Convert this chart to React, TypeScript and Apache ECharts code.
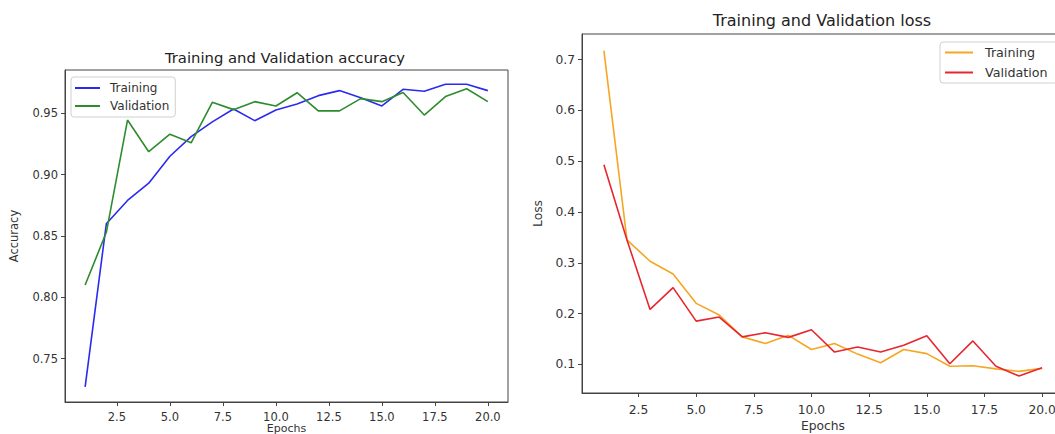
import React, { useEffect, useRef } from "react";
import * as echarts from "echarts";

const epochs = [1, 2, 3, 4, 5, 6, 7, 8, 9, 10, 11, 12, 13, 14, 15, 16, 17, 18, 19, 20];
const accTraining = [0.727, 0.86, 0.879, 0.893, 0.915, 0.931, 0.943, 0.9535, 0.944, 0.9527, 0.9576, 0.9644, 0.9685, 0.9627, 0.956, 0.9696, 0.968, 0.9737, 0.9737, 0.9685];
const accValidation = [0.81, 0.853, 0.9445, 0.9187, 0.933, 0.926, 0.959, 0.953, 0.9595, 0.956, 0.9668, 0.952, 0.952, 0.962, 0.9595, 0.967, 0.9486, 0.9636, 0.97, 0.9595];
const lossTraining = [0.718, 0.345, 0.303, 0.278, 0.22, 0.197, 0.154, 0.141, 0.157, 0.129, 0.141, 0.12, 0.103, 0.129, 0.121, 0.096, 0.097, 0.091, 0.086, 0.092];
const lossValidation = [0.493, 0.345, 0.208, 0.251, 0.185, 0.193, 0.154, 0.162, 0.153, 0.168, 0.124, 0.134, 0.124, 0.1375, 0.156, 0.101, 0.146, 0.096, 0.077, 0.093];
const xTicks = [2.5, 5, 7.5, 10, 12.5, 15, 17.5, 20];
const accTicks = [0.75, 0.8, 0.85, 0.9, 0.95];
const lossTicks = [0.1, 0.2, 0.3, 0.4, 0.5, 0.6, 0.7];

const FONT = "DejaVu Sans";
const TXT = "#333";

function pairs(ys: number[]) {
  return epochs.map((x, i) => [x, ys[i]]);
}

function xAxis(gridIndex: number, nameGap: number, fs: number, nameFs: number, labelMargin: number) {
  return {
    type: "value",
    gridIndex,
    min: 0.05,
    max: 20.95,
    name: "Epochs",
    nameLocation: "middle",
    nameGap,
    nameMoveOverlap: false,
    nameTextStyle: { fontFamily: FONT, fontSize: nameFs, color: TXT },
    axisLine: { show: true, lineStyle: { color: "#444", width: 1 } },
    axisTick: { show: true, customValues: xTicks, length: 4, lineStyle: { color: "#444" } },
    axisLabel: {
      customValues: xTicks,
      formatter: (v: number) => v.toFixed(1),
      fontFamily: FONT,
      fontSize: fs,
      color: TXT,
      margin: labelMargin,
    },
    splitLine: { show: false },
  };
}

function yAxis(gridIndex: number, name: string, min: number, max: number, ticks: number[], digits: number, nameGap: number, fs: number) {
  return {
    type: "value",
    gridIndex,
    min,
    max,
    name,
    nameLocation: "middle",
    nameGap,
    nameRotate: 90,
    nameTextStyle: { fontFamily: FONT, fontSize: fs, color: TXT },
    axisLine: { show: true, lineStyle: { color: "#444", width: 1 } },
    axisTick: { show: true, customValues: ticks, length: 4, lineStyle: { color: "#444" } },
    axisLabel: {
      customValues: ticks,
      formatter: (v: number) => v.toFixed(digits),
      fontFamily: FONT,
      fontSize: fs,
      color: TXT,
      margin: 7,
    },
    splitLine: { show: false },
  };
}

function line(name: string, xi: number, data: number[], color: string) {
  return {
    type: "line",
    name,
    xAxisIndex: xi,
    yAxisIndex: xi,
    data: pairs(data),
    showSymbol: false,
    symbol: "none",
    lineStyle: { color, width: 1.6 },
    itemStyle: { color },
  };
}

const labelMap: Record<string, string> = {
  accT: "Training",
  accV: "Validation",
  lossT: "Training",
  lossV: "Validation",
};

export default function App() {
  const ref = useRef<HTMLDivElement>(null);
  useEffect(() => {
    if (!ref.current) return;
    const chart = echarts.init(ref.current, undefined, { renderer: "svg" });
    const legendBase = {
      orient: "vertical",
      icon: "rect",
      itemHeight: 2,
      borderColor: "#d0d0d0",
      borderWidth: 1,
      borderRadius: 3,
      backgroundColor: "rgba(255,255,255,0.85)",
      formatter: (n: string) => labelMap[n] || n,
      selectedMode: false,
    };
    chart.setOption({
      animation: false,
      backgroundColor: "#fff",
      grid: [
        { left: 65, top: 70, width: 443, height: 332, show: true, borderColor: "#444", borderWidth: 1, backgroundColor: "transparent", outerBoundsMode: "none", containLabel: false },
        { left: 582, top: 34, width: 482, height: 359, show: true, borderColor: "#444", borderWidth: 1, backgroundColor: "transparent", outerBoundsMode: "none", containLabel: false },
      ],
      xAxis: [xAxis(0, 21, 11.5, 11, 9), xAxis(1, 27, 12.3, 12.3, 11)],
      yAxis: [
        yAxis(0, "Accuracy", 0.7147, 0.9853, accTicks, 2, 45, 11.5),
        yAxis(1, "Loss", 0.0434, 0.7507, lossTicks, 1, 38, 12.3),
      ],
      legend: [
        {
          ...legendBase,
          data: ["accT", "accV"],
          left: 71,
          top: 77,
          itemWidth: 25,
          itemGap: 6,
          padding: [5, 6, 5, 4],
          textStyle: { fontFamily: FONT, fontSize: 12, color: TXT, padding: [0, 0, 0, 5] },
        },
        {
          ...legendBase,
          data: ["lossT", "lossV"],
          left: 940,
          top: 42,
          itemWidth: 28,
          itemGap: 7,
          padding: [4, 10, 4, 5],
          textStyle: { fontFamily: FONT, fontSize: 12.7, color: TXT, padding: [0, 0, 0, 7] },
        },
      ],
      graphic: [
        {
          type: "text",
          x: 285,
          y: 57,
          style: { text: "Training and Validation accuracy", textAlign: "center", textVerticalAlign: "middle", fontFamily: FONT, fontSize: 14.8, fill: "#222" },
        },
        {
          type: "text",
          x: 822,
          y: 20,
          style: { text: "Training and Validation loss", textAlign: "center", textVerticalAlign: "middle", fontFamily: FONT, fontSize: 16, fill: "#222" },
        },
      ],
      series: [
        line("accT", 0, accTraining, "#2b2bf0"),
        line("accV", 0, accValidation, "#2e8b2e"),
        line("lossT", 1, lossTraining, "#f5a623"),
        line("lossV", 1, lossValidation, "#e8262e"),
      ],
    });
    return () => chart.dispose();
  }, []);
  return (
    <div
      ref={ref}
      style={{ position: "fixed", left: 0, top: 0, width: 1055, height: 434 }}
    />
  );
}
